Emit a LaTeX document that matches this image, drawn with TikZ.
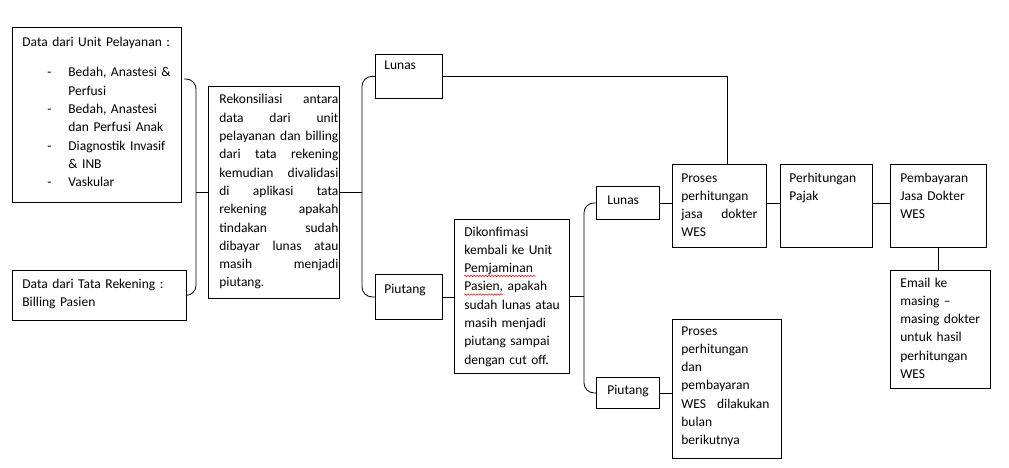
\documentclass[tikz,border=0pt]{standalone}
\usepackage{fontspec}
\setmainfont{Carlito}
\usepackage{tikz}
\usetikzlibrary{calc}
\usetikzlibrary{decorations.pathmorphing}
\newcommand{\isi}{\fontsize{13.5pt}{18.3pt}\selectfont}

\begin{document}
\begin{tikzpicture}[x=1pt,y=-1pt,line width=0.8pt,
  kotak/.style={draw,anchor=north west,inner sep=0pt},
  teks/.style={anchor=base west,inner sep=0pt,align=left,font=\isi},
  salah/.style={red,line width=0.5pt,decorate,decoration={snake,amplitude=0.7pt,segment length=3pt}}]
  \path[use as bounding box,fill=white](0,0)rectangle(1009,468);

  \node[kotak,minimum width=169pt,minimum height=175pt](unit) at (12,27){};
  \node[kotak,minimum width=174pt,minimum height=50pt](tata) at (12,270){};
  \node[kotak,minimum width=131pt,minimum height=212pt](rekon) at (208,86){};
  \node[kotak,minimum width=67pt,minimum height=44pt](lunas1) at (375,54){};
  \node[kotak,minimum width=67pt,minimum height=45pt](piutang1) at (375,274){};
  \node[kotak,minimum width=115pt,minimum height=154pt](konfirm) at (454,219){};
  \node[kotak,minimum width=63pt,minimum height=33pt](lunas2) at (596,186){};
  \node[kotak,minimum width=63pt,minimum height=31pt](piutang2) at (596,377){};
  \node[kotak,minimum width=94pt,minimum height=83pt](proses1) at (672,164){};
  \node[kotak,minimum width=92pt,minimum height=83pt](pajak) at (780,164){};
  \node[kotak,minimum width=96pt,minimum height=83pt](bayar) at (890,164){};
  \node[kotak,minimum width=100pt,minimum height=118pt](email) at (890,270){};
  \node[kotak,minimum width=109pt,minimum height=139pt](proses2) at (672,319){};

  \node[teks,text width=160pt](unit-t) at (22,47){Data dari Unit Pelayanan :\\[11.7pt]
    \hspace*{25pt}\makebox[21pt][l]{-}Bedah, Anastesi \&\\
    \hspace*{46pt}Perfusi\\
    \hspace*{25pt}\makebox[21pt][l]{-}Bedah, Anastesi\\
    \hspace*{46pt}dan Perfusi Anak\\
    \hspace*{25pt}\makebox[21pt][l]{-}Diagnostik Invasif\\
    \hspace*{46pt}\& INB\\
    \hspace*{25pt}\makebox[21pt][l]{-}Vaskular};
  \node[teks,text width=160pt](tata-t) at (22,288){Data dari Tata Rekening :\\ Billing Pasien};
  \node[teks,text width=119pt](rekon-t) at (219,104){Rekonsiliasi\hfill antara\\ data\hfill dari\hfill unit\\
    pelayanan\hfill dan\hfill billing\\ dari\hfill tata\hfill rekening\\ kemudian\hfill divalidasi\\
    di\hfill aplikasi\hfill tata\\ rekening\hfill apakah\\ tindakan\hfill sudah\\
    dibayar\hfill lunas\hfill atau\\ masih\hfill menjadi\\ piutang.};
  \node[teks,text width=50pt](lunas1-t) at (384,70){Lunas};
  \node[teks,text width=50pt](piutang1-t) at (384,293){Piutang};
  \node[teks,text width=100pt](konfirm-t) at (464,236){Dikonfimasi\\ kembali ke Unit\\ Pemjaminan\\
    Pasien, apakah\\ sudah lunas atau\\ masih menjadi\\ piutang sampai\\ dengan cut off.};
  \node[teks,text width=50pt](lunas2-t) at (607,204){Lunas};
  \node[teks,text width=50pt](piutang2-t) at (607,394){Piutang};
  \node[teks,text width=76pt](proses1-t) at (681,182){Proses\\ perhitungan\\ jasa\hfill dokter\\ WES};
  \node[teks,text width=80pt](pajak-t) at (789,182){Perhitungan\\ Pajak};
  \node[teks,text width=85pt](bayar-t) at (900,182){Pembayaran\\ Jasa Dokter\\ WES};
  \node[teks,text width=88pt](email-t) at (900,287){Email ke\\ masing –\\ masing dokter\\ untuk hasil\\ perhitungan\\ WES};
  \node[teks,text width=88pt](proses2-t) at (681,335){Proses\\ perhitungan\\ dan\\ pembayaran\\
    WES\hfill dilakukan\\ bulan\\ berikutnya};

  \draw[salah](464,276)--(536,276);
  \draw[salah](464,294.5)--(503,294.5);

  \coordinate (k1a) at (184,79);
  \coordinate (k1) at (196,188);
  \coordinate (k2) at ($(lunas1.west)!.5!(piutang1.west)+(-13,0)$);
  \coordinate (k3) at ($(lunas2.west)!.5!(piutang2.west)+(-12,0)$);
  \draw[rounded corners=10pt](k1a)-|(k1)|-(tata.east);
  \draw[rounded corners=10pt](lunas1.west)-|(k2)|-(piutang1.west);
  \draw[rounded corners=10pt](lunas2.west)-|(k3)|-(piutang2.west);
  \draw(k1|-rekon.west)--(rekon.west);
  \draw(rekon.east)--(rekon.east-|k2);
  \draw(konfirm.east)--(konfirm.east-|k3);

  \draw(lunas1.east)-|([xshift=8pt]proses1.north);
  \draw(piutang1.east)--(piutang1.east-|konfirm.west);
  \draw(lunas2.east)--(lunas2.east-|proses1.west);
  \draw(proses1.east|-lunas2.east)--(pajak.west|-lunas2.east);
  \draw(pajak.east|-lunas2.east)--(bayar.west|-lunas2.east);
  \draw(bayar.south)--(bayar.south|-email.north);
  \draw(piutang2.east)--(piutang2.east-|proses2.west);
\end{tikzpicture}
\end{document}
